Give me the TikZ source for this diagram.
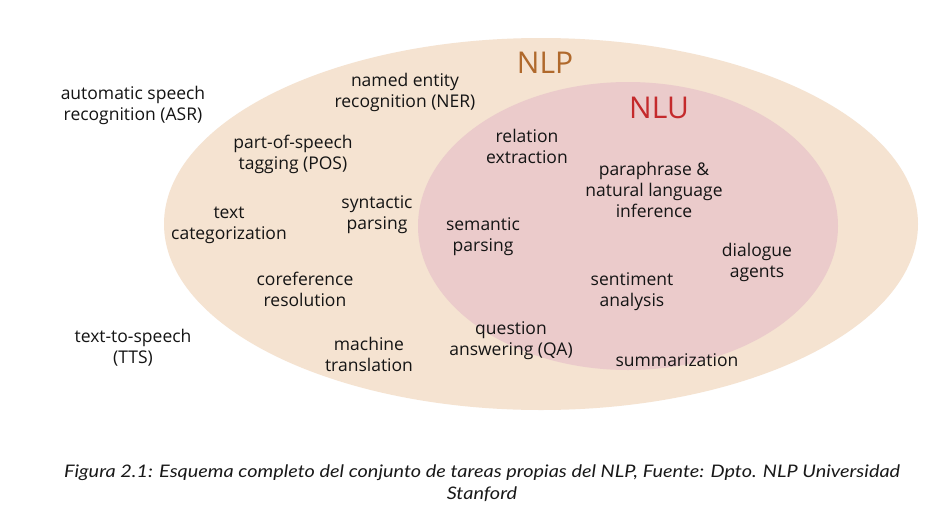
\documentclass[tikz,border=0pt]{standalone}
\usepackage{fontspec}
\setmainfont{Open Sans}
\newfontfamily\capfont[FakeStretch=1.15]{Lato}
\definecolor{nlpfill}{HTML}{F5E3D1}
\definecolor{nlufill}{HTML}{EBCBCB}
\definecolor{nlptext}{HTML}{B0692C}
\definecolor{nlutext}{HTML}{C42A2C}
\begin{document}
\begin{tikzpicture}[x=1pt,y=-1pt,
  task/.style={align=center,font=\fontsize{17.5}{21}\selectfont,text=black!92,inner sep=0pt,yshift=-2pt},
  biglabel/.style={font=\fontsize{30}{32}\selectfont,inner sep=0pt}]
\useasboundingbox (0,0) rectangle (932,523);
\fill[white] (0,0) rectangle (932,523);
\fill[nlpfill] (541,224) ellipse [x radius=377, y radius=186];
\fill[nlufill] (628,226) ellipse [x radius=210, y radius=144];
\node[biglabel,text=nlptext] (nlp) at (545,63) {NLP};
\node[biglabel,text=nlutext] (nlu) at (659,108) {NLU};
\node[task] (asr) at (133,103) {automatic speech\\recognition (ASR)};
\node[task] (ner) at (405,90) {named entity\\recognition (NER)};
\node[task] (pos) at (293,152) {part-of-speech\\tagging (POS)};
\node[task] (tc) at (229,223) {text\\categorization};
\node[task] (sp) at (377,213) {syntactic\\parsing};
\node[task] (cr) at (305,287) {coreference\\resolution};
\node[task] (tts) at (133,346) {text-to-speech\\(TTS)};
\node[task] (mt) at (369,352) {machine\\translation};
\node[task] (re) at (527,144) {relation\\extraction};
\node[task] (pni) at (654,188) {paraphrase \&\\natural language\\inference};
\node[task] (semp) at (483,235) {semantic\\parsing};
\node[task] (da) at (757,260) {dialogue\\agents};
\node[task] (sa) at (632,290) {sentiment\\analysis};
\node[task] (qa) at (511,339) {question\\answering (QA)};
\node[task] (sum) at (677,358) {summarization};
\node[align=center,font=\capfont\itshape\fontsize{17.3}{22}\selectfont,text=black!90,inner sep=0pt] (cap) at (482,483)
  {Figura 2.1: Esquema completo del conjunto de tareas propias del NLP, Fuente: Dpto. NLP Universidad\\Stanford};
\end{tikzpicture}
\end{document}
